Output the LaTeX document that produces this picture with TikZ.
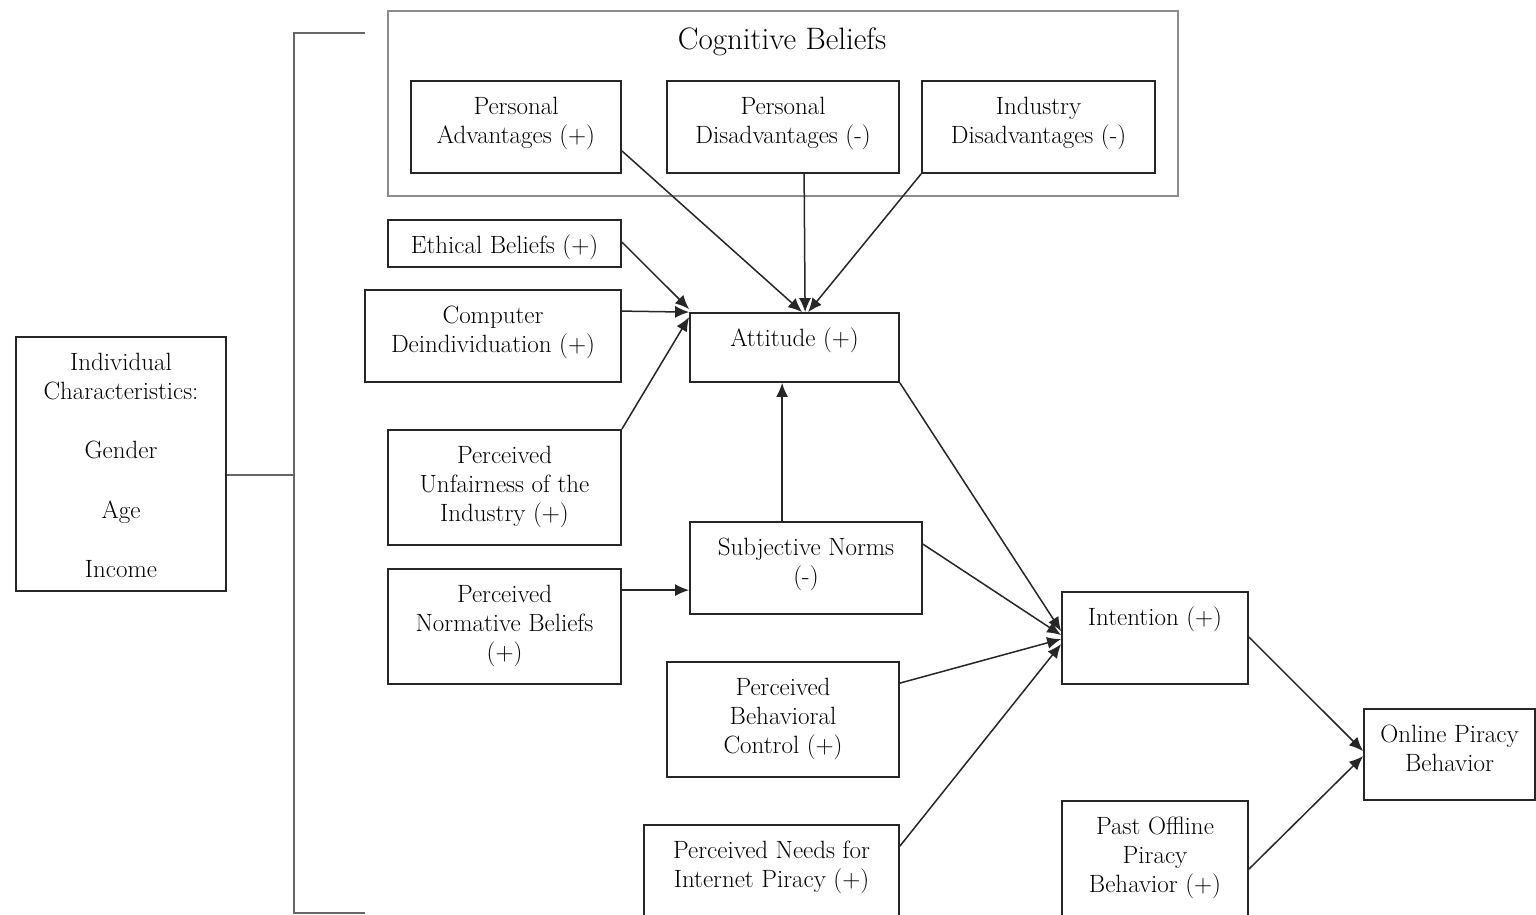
\documentclass[tikz,border=0pt]{standalone}
\usetikzlibrary{arrows.meta,calc,fit}
\begin{document}
\begin{tikzpicture}[x=1pt,y=-1pt,
  box/.style={draw=black!85,line width=1.8pt,inner sep=0pt},
  groupbox/.style={draw=black!45,line width=1.6pt,inner sep=0pt},
  txt/.style={inner sep=0pt,align=center,font=\fontsize{25}{29.3}\selectfont},
  link/.style={draw=black!85,line width=1.5pt,-{Latex[length=14pt,width=12pt]}},
  brace/.style={draw=black!60,line width=2.2pt}]
\useasboundingbox (0,0) rectangle (1536,915);
\clip (0,0) rectangle (1536,915);
\fill[white] (0,0) rectangle (1536,915);

% box with its caption set near the top edge
\newcommand\bx[6]{%
  \node[box,fit={(#2,#3) (#4,#5)}] (#1) {};
  \node[txt,anchor=north] (#1t) at ($(#1.north)+(0,13.5)$) {\strut#6};}

% cognitive beliefs group
\node[groupbox,fit={(388,11) (1178,196)}] (cog) {};
\node[inner sep=0pt,anchor=base,font=\fontsize{31}{36}\selectfont] (cogt) at (782,50) {Cognitive Beliefs};

\bx{pa}{411}{81}{621}{173}{Personal\\Advantages (+)}
\bx{pd}{667}{81}{899}{173}{Personal\\Disadvantages (-)}
\bx{id}{922}{81}{1155}{173}{Industry\\Disadvantages (-)}

\bx{eth}{388}{220}{621}{267}{Ethical Beliefs (+)}
\bx{cd}{365}{290}{621}{382}{Computer\\Deindividuation (+)}
\bx{pui}{388}{430}{621}{545}{Perceived\\Unfairness of the\\Industry (+)}
\bx{pnb}{388}{569}{621}{684}{Perceived\\Normative Beliefs\\(+)}

\bx{att}{690}{313}{899}{382}{Attitude (+)}
\bx{sn}{690}{522}{922}{614}{Subjective Norms\\(-)}
\bx{pbc}{667}{662}{899}{777}{Perceived\\Behavioral\\Control (+)}
\bx{pnip}{644}{825}{899}{960}{Perceived Needs for\\Internet Piracy (+)}

\bx{int}{1062}{592}{1248}{684}{Intention (+)}
\bx{pob}{1062}{801}{1248}{960}{Past Offline\\Piracy\\Behavior (+)}
\bx{opb}{1364}{709}{1535}{800}{Online Piracy\\Behavior}

\bx{ind}{16}{337}{226}{591}{Individual\\Characteristics:\\[30pt]Gender\\[30pt]Age\\[30pt]Income}

% bracket joining individual characteristics to every construct
\coordinate (brt) at (294,33);
\coordinate (brb) at (294,913);
\coordinate (brm) at (294,475);
\draw[brace] (365,33) -- (brt) -- (brb) -- (365,913);
\draw[brace] ($(ind.east)+(0,11)$) -- (brm);

% cognitive beliefs -> attitude
\draw[link] ($(pa.south east)+(0,-23)$) -- ($(att.north west)+(113,0)$);
\draw[link] ($(pd.south west)+(138,0)$) -- ($(att.north west)+(116,0)$);
\draw[link] (id.south west) -- ($(att.north west)+(119,0)$);

% other beliefs -> attitude
\draw[link] ($(eth.north east)+(0,23)$) -- ($(att.north west)+(0,-3)$);
\draw[link] ($(cd.north east)+(0,22)$) -- (att.north west);
\draw[link] (pui.north east) -- ($(att.north west)+(0,5)$);

% norms
\draw[link] ($(pnb.north east)+(0,22)$) -- ($(sn.north west)+(0,69)$);
\draw[link] ($(sn.north west)+(93,0)$) -- ($(att.south west)+(93,0)$);

% -> intention
\draw[link] (att.south east) -- ($(int.north west)+(0,40)$);
\draw[link] ($(sn.north east)+(0,23)$) -- ($(int.north west)+(0,44)$);
\draw[link] ($(pbc.north east)+(0,22)$) -- ($(int.north west)+(0,48)$);
\draw[link] ($(pnip.north east)+(0,22)$) -- ($(int.north west)+(0,53)$);

% -> online piracy behavior
\draw[link] ($(int.north east)+(0,46)$) -- ($(opb.north west)+(0,43)$);
\draw[link] ($(pob.north east)+(0,69)$) -- ($(opb.north west)+(0,48)$);
\end{tikzpicture}
\end{document}
